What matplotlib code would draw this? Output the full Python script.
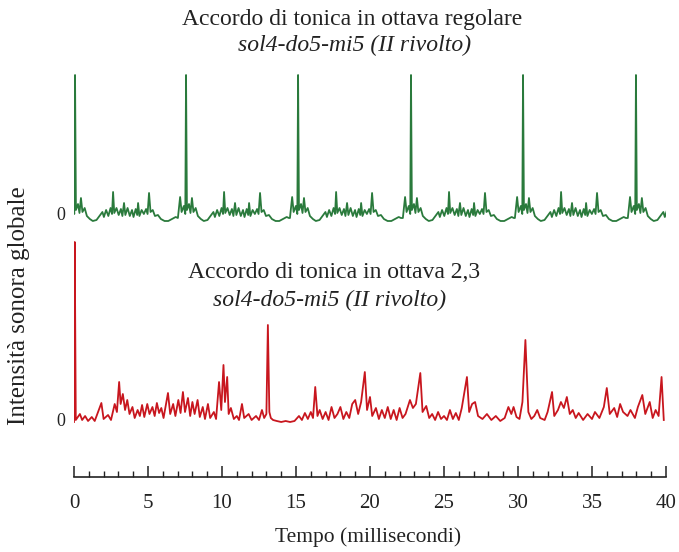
import numpy as np
import matplotlib
matplotlib.use("Agg")
import matplotlib.pyplot as plt
from matplotlib.ticker import MultipleLocator

# --- data (time in ms, intensity in arbitrary units) ---
# green trace: one measured cycle, repeated at each main peak onset
green_onsets = [0.07, 7.57, 15.14, 22.77, 30.34, 37.97]
green_cycle_t = [-0.55, -0.40, -0.30, -0.15, -0.05, 0.00, 0.06, 0.20, 0.30, 0.40,
                 0.50, 0.65, 0.80, 1.00, 1.20, 1.45, 1.65, 1.85, 1.95, 2.10,
                 2.25, 2.40, 2.50, 2.57, 2.65, 2.80, 2.95, 3.10, 3.20, 3.31,
                 3.40, 3.55, 3.70, 3.85, 3.95, 4.10, 4.20, 4.26, 4.35, 4.50,
                 4.65, 4.80, 4.90, 5.00, 5.10, 5.25, 5.40, 5.60, 5.80, 6.05,
                 6.30, 6.55, 6.80, 6.95]
green_cycle_v = [0, 21, 6, 12, 4, 143, 8, 14, 5, 20,
                 6, 10, 2, -1, -3, -2, 2, 6, 1, 8,
                 2, 10, 4, 26, 5, 10, 3, 9, 2, 15,
                 3, 10, 2, 8, 1, 9, 3, 15, 2, 8,
                 4, 9, 4, 25, 6, 8, 2, 3, -1, -3,
                 -3, -1, 1, 0]

red_t = [0.00, 0.05, 0.12, 0.40, 0.55, 0.75, 0.95, 1.20, 1.40, 1.85,
         2.00, 2.30, 2.50, 2.75, 2.90, 3.05, 3.15, 3.30, 3.45, 3.60,
         3.75, 3.95, 4.10, 4.30, 4.45, 4.60, 4.75, 4.95, 5.10, 5.30,
         5.45, 5.60, 5.75, 5.90, 6.05, 6.35, 6.50, 6.70, 6.85, 7.05,
         7.20, 7.36, 7.50, 7.70, 7.85, 8.00, 8.15, 8.35, 8.50, 8.70,
         8.85, 9.05, 9.20, 9.45, 9.60, 9.80, 9.95, 10.10, 10.20, 10.35,
         10.45, 10.60, 10.80, 11.00, 11.15, 11.35, 11.50, 11.80, 12.00, 12.30,
         12.50, 12.70, 12.85, 13.00, 13.10, 13.20, 13.30, 13.45, 13.70, 14.00,
         14.30, 14.60, 14.90, 15.20, 15.40, 15.60, 15.80, 16.00, 16.15, 16.30,
         16.45, 16.60, 16.80, 17.00, 17.20, 17.40, 17.60, 17.80, 18.00, 18.20,
         18.40, 18.60, 18.80, 19.00, 19.20, 19.40, 19.65, 19.80, 20.00, 20.15,
         20.40, 20.60, 20.80, 21.00, 21.20, 21.40, 21.60, 21.80, 22.00, 22.20,
         22.40, 22.70, 22.90, 23.10, 23.40, 23.55, 23.80, 24.00, 24.20, 24.40,
         24.60, 24.80, 25.00, 25.20, 25.40, 25.60, 25.80, 26.00, 26.20, 26.55,
         26.70, 26.90, 27.10, 27.30, 27.60, 27.90, 28.20, 28.50, 28.80, 29.10,
         29.35, 29.55, 29.70, 29.90, 30.10, 30.30, 30.50, 30.70, 30.90, 31.10,
         31.30, 31.50, 31.80, 32.00, 32.30, 32.45, 32.70, 32.90, 33.10, 33.30,
         33.50, 33.70, 33.90, 34.10, 34.40, 34.70, 35.00, 35.20, 35.50, 35.80,
         36.00, 36.20, 36.50, 36.70, 36.90, 37.10, 37.40, 37.60, 37.90, 38.10,
         38.40, 38.60, 38.90, 39.10, 39.30, 39.50, 39.70, 39.85]
red_v = [0, 180, 2, 8, 2, 6, 1, 5, 1, 19,
         3, 7, 2, 18, 10, 40, 18, 28, 12, 22,
         8, 15, 4, 12, 6, 17, 5, 18, 8, 15,
         6, 19, 9, 14, 4, 29, 8, 18, 6, 22,
         9, 30, 10, 24, 6, 20, 8, 22, 5, 15,
         3, 18, 4, 10, 3, 40, 12, 57, 20, 45,
         8, 14, 3, 6, 2, 18, 4, 8, 2, 6,
         2, 12, 4, 8, 97, 10, 4, 2, 1, 0,
         1, 0, 1, 6, 2, 9, 3, 10, 4, 35,
         6, 12, 3, 10, 2, 15, 4, 8, 15, 3,
         10, 4, 18, 22, 8, 20, 50, 12, 25, 6,
         14, 3, 12, 4, 15, 3, 12, 2, 14, 4,
         8, 22, 14, 18, 49, 10, 16, 4, 8, 2,
         10, 3, 6, 2, 12, 3, 9, 2, 14, 45,
         10, 18, 20, 6, 3, 8, 2, 6, 1, 4,
         15, 8, 15, 5, 3, 20, 82, 10, 3, 6,
         12, 4, 2, 10, 30, 6, 12, 20, 14, 25,
         8, 12, 4, 9, 2, 8, 3, 10, 4, 15,
         34, 8, 14, 5, 18, 10, 6, 12, 4, 15,
         27, 8, 20, 4, 12, 6, 45, 2]

x_ticks = [0, 5, 10, 15, 20, 25, 30, 35, 40]

title_top = "Accordo di tonica in ottava regolare"
title_bottom = "Accordo di tonica in ottava 2,3"
subtitle = "sol4-do5-mi5 (II rivolto)"

green = "#2a7a3c"
red = "#c8161e"
text_color = "#222222"
serif = ["Liberation Serif", "DejaVu Serif"]

W, H = 679, 552
fig = plt.figure(figsize=(W / 100, H / 100), dpi=100)

def px_axes(x0, y0, x1, y1):
    # pixel box (top-left origin) -> figure axes
    return fig.add_axes([x0 / W, 1 - y1 / H, (x1 - x0) / W, (y1 - y0) / H])

green_t = np.concatenate([np.array(green_cycle_t) + t0 for t0 in green_onsets])
green_v = np.tile(green_cycle_v, len(green_onsets))

ax_g = px_axes(74, 70, 666, 230)
ax_g.plot(green_t, green_v, color=green, lw=1.3)
ax_g.set_xlim(0, 40)
ax_g.set_ylim(-12, 148)
ax_g.axis("off")

ax_r = px_axes(74, 235, 666, 435)
ax_r.plot(red_t, red_v, color=red, lw=1.3)
ax_r.set_xlim(0, 40)
ax_r.set_ylim(-13, 187)
ax_r.axis("off")

# time axis with ticks pointing up
ax_x = px_axes(74, 467, 666, 477)
ax_x.set_xlim(0, 40)
ax_x.set_yticks([])
for s in ["top", "left", "right"]:
    ax_x.spines[s].set_visible(False)
ax_x.spines["bottom"].set_linewidth(1.2)
ax_x.spines["bottom"].set_color(text_color)
ax_x.set_xticks(x_ticks)
ax_x.xaxis.set_minor_locator(MultipleLocator(1))
ax_x.tick_params(axis="x", which="major", direction="in", length=8, width=1.1,
                 pad=12, color=text_color, labelcolor=text_color)
ax_x.tick_params(axis="x", which="minor", direction="in", length=4, width=1.0,
                 color=text_color)
ax_x.set_xticklabels([str(v) for v in x_ticks], family=serif, fontsize=15)
ax_x.patch.set_alpha(0)

fig.text(368 / W, 1 - 537 / H, "Tempo (millisecondi)", ha="center", va="center",
         family=serif, fontsize=15.5, color=text_color)
fig.text(352 / W, 1 - 19 / H, title_top, ha="center", va="center",
         family=serif, fontsize=17, color=text_color)
fig.text(355 / W, 1 - 45 / H, subtitle, ha="center", va="center",
         family=serif, fontsize=17, style="italic", color=text_color)
fig.text(334 / W, 1 - 272 / H, title_bottom, ha="center", va="center",
         family=serif, fontsize=17, color=text_color)
fig.text(330 / W, 1 - 300 / H, subtitle, ha="center", va="center",
         family=serif, fontsize=17, style="italic", color=text_color)
fig.text(19 / W, 1 - 306 / H, "Intensità sonora globale", ha="center", va="center",
         rotation=90, family=serif, fontsize=18, color=text_color)
fig.text(61 / W, 1 - 216 / H, "0", ha="center", va="center", family=serif,
         fontsize=13, color=text_color)
fig.text(61 / W, 1 - 422 / H, "0", ha="center", va="center", family=serif,
         fontsize=13, color=text_color)

fig.savefig("out.png", dpi=100)
